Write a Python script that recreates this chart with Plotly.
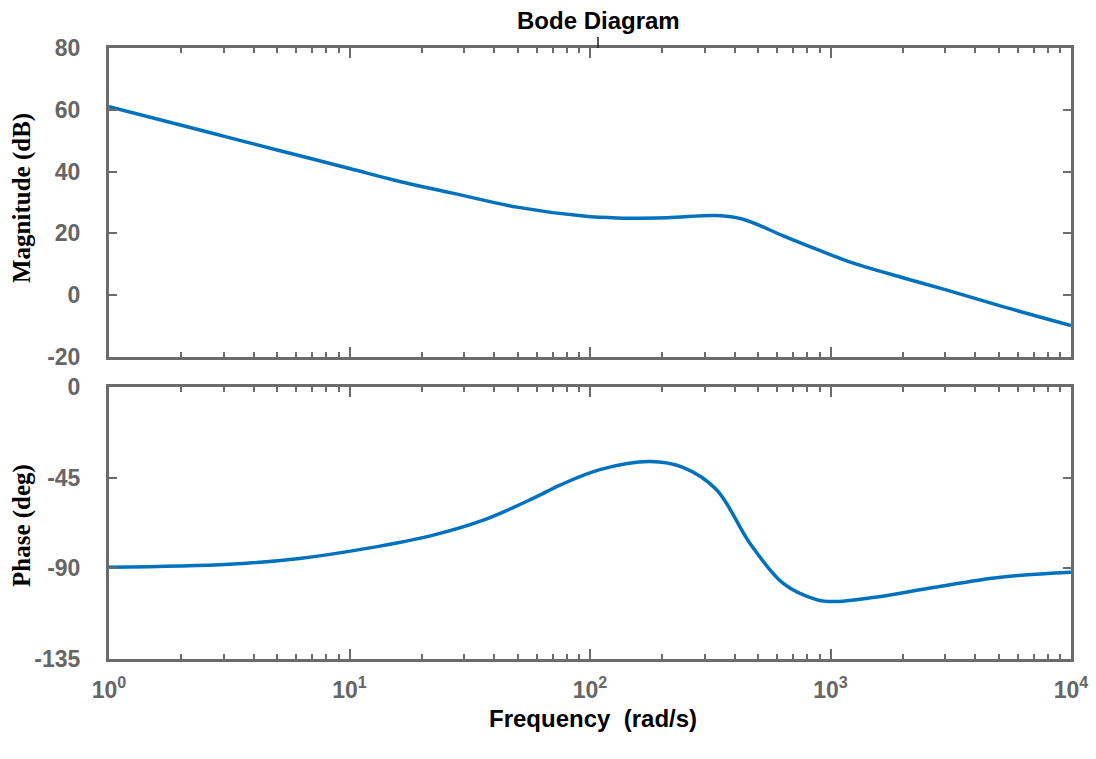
import plotly.graph_objects as go
from plotly.subplots import make_subplots

# Magnitude data
mag_freq = [1, 2, 3.16, 5, 10, 16, 26.2, 49.7, 94, 129, 209, 336, 433, 636, 873, 1200, 1950, 3000, 5000, 10000]
mag_db = [61, 55, 51, 47, 41, 36.9, 33.2, 28.5, 25.6, 25.0, 25.1, 25.8, 24.6, 19.2, 14.9, 10.8, 5.9, 1.8, -3.3, -9.8]

# Phase data
ph_freq = [1, 3.16, 6.2, 11.8, 22.3, 36, 58, 75, 110, 178, 245, 336, 462, 636, 873, 1025, 1500, 2680, 5000, 10000]
ph_deg = [-89.5, -88, -85.1, -80.1, -73.5, -66.1, -55.3, -48.7, -41, -37, -40, -51, -77.5, -97.5, -105.5, -106.5, -104.5, -99.5, -94.5, -92]

x_tickvals = [1, 10, 100, 1000, 10000]
x_ticktext = ["10<sup>0</sup>", "10<sup>1</sup>", "10<sup>2</sup>", "10<sup>3</sup>", "10<sup>4</sup>"]
x_minor = [m * 10 ** k for k in range(4) for m in range(2, 10)]
mag_ticks = [-20, 0, 20, 40, 60, 80]
mag_ticktext = ["-20", "0", "20", "40", "60", "80"]
ph_ticks = [-135, -90, -45, 0]
ph_ticktext = ["-135", "-90", "-45", "0"]

AX = "#6b6b6b"
LINE = "#0072BD"
TICKFONT = dict(family="Liberation Sans Narrow, Liberation Sans, Arial", size=23, color="#666666", weight="bold")

total = 659 - 48

fig = make_subplots(rows=2, cols=1, shared_xaxes=False, vertical_spacing=0.05)
fig.add_trace(go.Scatter(x=mag_freq, y=mag_db, mode="lines", line=dict(color=LINE, width=3.5, shape="spline"),
                         showlegend=False), row=1, col=1)
fig.add_trace(go.Scatter(x=ph_freq, y=ph_deg, mode="lines", line=dict(color=LINE, width=3.5, shape="spline"),
                         showlegend=False), row=2, col=1)

xcommon = dict(type="log", range=[0, 4], showline=True, linecolor=AX, linewidth=3, mirror="allticks",
               ticks="inside", ticklen=10, tickwidth=2, tickcolor=AX, showgrid=False, zeroline=False,
               tickvals=x_tickvals, ticktext=x_ticktext, automargin=False,
               minor=dict(tickvals=x_minor, ticks="inside", ticklen=5, tickwidth=2, tickcolor=AX, showgrid=False),
               tickfont=TICKFONT)
ycommon = dict(showline=True, linecolor=AX, linewidth=3, mirror="allticks", ticks="inside", ticklen=8,
               tickwidth=2, tickcolor=AX, showgrid=False, zeroline=False, tickfont=TICKFONT,
               ticklabelstandoff=21, automargin=False)

fig.update_xaxes(domain=[0, 1], **xcommon)
fig.update_xaxes(showticklabels=False, row=1, col=1)
fig.update_xaxes(ticklabelstandoff=8, row=2, col=1)
fig.update_yaxes(**ycommon)
fig.update_yaxes(range=[-20, 80], tickvals=mag_ticks, ticktext=mag_ticktext,
                 domain=[(659 - 357) / total, 1], row=1, col=1)
fig.update_yaxes(range=[-135, 0], tickvals=ph_ticks, ticktext=ph_ticktext,
                 domain=[0, (659 - 387) / total], row=2, col=1)

title_font = dict(family="Liberation Sans, Arial", size=24, color="black", weight="bold")
serif_font = dict(family="Liberation Serif, Times New Roman", size=25, color="black", weight="bold")

fig.add_annotation(text="Bode Diagram", x=(598 - 109) / 962, y=1, xref="paper", yref="paper",
                   xanchor="center", yanchor="middle", yshift=28, showarrow=False, font=title_font)
fig.add_annotation(text="Frequency\u00a0\u00a0(rad/s)", x=(593 - 109) / 962, y=0, xref="paper", yref="paper",
                   xanchor="center", yanchor="middle", yshift=-59, showarrow=False, font=title_font)
fig.add_annotation(text="Magnitude (dB)", x=0, y=(659 - 198) / total, xref="paper", yref="paper",
                   xanchor="center", yanchor="middle", xshift=-87, textangle=-90, showarrow=False, font=serif_font)
fig.add_annotation(text="Phase (deg)", x=0, y=(659 - 526) / total, xref="paper", yref="paper",
                   xanchor="center", yanchor="middle", xshift=-87, textangle=-90, showarrow=False, font=serif_font)
fig.add_shape(type="line", xref="paper", yref="paper", x0=(598 - 109) / 962, x1=(598 - 109) / 962,
              y0=1, y1=1 + 11 / total, line=dict(color="#222222", width=1.5))

fig.update_layout(width=1096, height=759, margin=dict(l=109, r=25, t=48, b=100),
                  plot_bgcolor="white", paper_bgcolor="white")

fig.write_html("out.html", config={"displayModeBar": False},
               post_script="document.body.style.margin='0';document.body.style.overflow='hidden';")
